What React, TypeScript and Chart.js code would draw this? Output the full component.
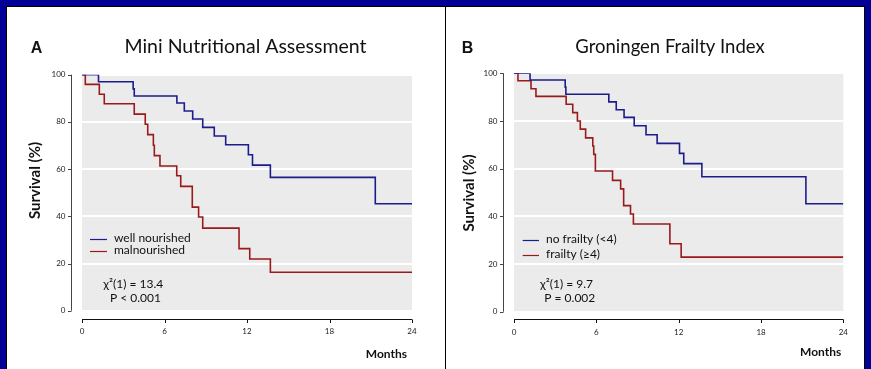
import React, { useEffect, useRef } from 'react';
import { Chart, registerables } from 'chart.js';

Chart.register(...registerables);

// ---------- data ----------
const xTickValues = [0, 6, 12, 18, 24];
const yTickValues = [0, 20, 40, 60, 80, 100];

const seriesNamesA = ['well nourished', 'malnourished'];
const seriesNamesB = ['no frailty (<4)', 'frailty (≥4)'];

const monthsWellNourished = [0, 1.2, 3.72, 3.8, 6.9, 7.44, 8.05, 8.78, 9.62, 10.45, 12.1, 12.4, 13.7, 21.33, 24];
const survivalWellNourished = [100, 97, 94, 91, 88, 84.6, 81.2, 77.7, 74, 70.3, 66.1, 61.7, 56.5, 45.3, 45.3];

const monthsMalnourished = [0, 0.24, 1.26, 1.62, 3.8, 4.6, 4.78, 5.19, 5.26, 5.67, 6.89, 7.18, 8.02, 8.48, 8.78, 11.42, 12.2, 13.7, 24];
const survivalMalnourished = [100, 95.9, 91.7, 87.7, 83.3, 79.0, 74.6, 70.1, 65.7, 61.3, 57.2, 52.7, 43.9, 39.7, 35.0, 26.3, 21.9, 16.3, 16.3];

const monthsNoFrailty = [0, 1.17, 3.73, 3.78, 6.91, 7.45, 8.02, 8.76, 9.62, 10.43, 12.06, 12.37, 13.69, 21.27, 24];
const survivalNoFrailty = [100, 97.2, 94.2, 91.2, 88.0, 84.7, 81.5, 78.0, 74.2, 70.6, 66.4, 62.1, 56.6, 45.3, 45.3];

const monthsFrailty = [0, 0.29, 1.24, 1.6, 3.8, 4.28, 4.62, 4.83, 5.22, 5.74, 5.81, 5.93, 7.18, 7.77, 7.99, 8.49, 8.7, 11.36, 12.18, 24];
const survivalFrailty = [100, 96.9, 93.5, 90.3, 87.0, 83.5, 80.0, 76.6, 72.9, 69.5, 66.0, 59.0, 55.1, 51.5, 44.5, 41.0, 36.8, 28.5, 22.9, 22.9];

const statsA = ['χ²(1) = 13.4', 'P < 0.001'];
const statsB = ['χ²(1) = 9.7', 'P = 0.002'];

const titleA = 'Mini Nutritional Assessment';
const titleB = 'Groningen Frailty Index';
const yAxisTitle = 'Survival (%)';
const xAxisTitle = 'Months';

// ---------- styling ----------
const BLUE = '#1c1c8c';
const RED = '#9a1a1a';
const PANEL_BG = '#ebebeb';
const FRAME_BLUE = '#000096';
const FAMILY = 'Lato, "Open Sans", "DejaVu Sans", sans-serif';

const toPoints = (xs: number[], ys: number[]) => xs.map((x, i) => ({ x, y: ys[i] }));

const decorPlugin = {
  id: 'kmDecor',
  beforeDraw(chart: any, _args: any, o: any) {
    const { ctx, chartArea: a } = chart;
    ctx.save();
    ctx.fillStyle = PANEL_BG;
    ctx.fillRect(a.left, a.top, a.right - a.left, a.bottom - a.top);
    ctx.restore();
  },
  afterDraw(chart: any, _args: any, o: any) {
    const { ctx, chartArea: a, scales } = chart;
    const xs = scales.x;
    const ys = scales.y;
    ctx.save();
    // y axis (offset)
    const yx = Math.floor(a.left - o.yAxisOffset) + 0.5;
    ctx.strokeStyle = '#444';
    ctx.lineWidth = 1;
    ctx.beginPath();
    ctx.moveTo(yx, ys.getPixelForValue(yTickValues[yTickValues.length - 1]));
    ctx.lineTo(yx, ys.getPixelForValue(yTickValues[0]));
    yTickValues.forEach((v) => {
      const py = Math.round(ys.getPixelForValue(v)) + 0.5;
      ctx.moveTo(yx - 3.5, py);
      ctx.lineTo(yx, py);
    });
    ctx.stroke();
    // x axis (offset)
    const xy = Math.floor(a.bottom + o.xAxisOffset) + 0.5;
    ctx.strokeStyle = '#111';
    ctx.beginPath();
    ctx.moveTo(xs.getPixelForValue(xTickValues[0]), xy);
    ctx.lineTo(xs.getPixelForValue(xTickValues[xTickValues.length - 1]), xy);
    xTickValues.forEach((v) => {
      const px = Math.round(xs.getPixelForValue(v)) + 0.5;
      ctx.moveTo(px, xy);
      ctx.lineTo(px, xy + 3.5);
    });
    ctx.stroke();

    ctx.fillStyle = '#111';
    // panel letter
    ctx.font = 'bold 16px "Liberation Sans", Arial, sans-serif';
    ctx.textAlign = 'center';
    ctx.textBaseline = 'alphabetic';
    ctx.fillText(o.letter, o.letterX, o.letterY);
    // title
    ctx.font = `${o.titleSize}px ${FAMILY}`;
    ctx.fillText(o.title, o.titleX, o.titleY);
    // y axis title
    ctx.save();
    ctx.translate(o.yTitleX, o.yTitleY);
    ctx.rotate(-Math.PI / 2);
    ctx.font = `bold 15px ${FAMILY}`;
    ctx.textBaseline = 'middle';
    ctx.fillText(yAxisTitle, 0, 0);
    ctx.restore();
    // x axis title
    ctx.font = `bold 12px ${FAMILY}`;
    ctx.textAlign = 'right';
    ctx.textBaseline = 'middle';
    ctx.fillText(xAxisTitle, o.xTitleX, o.xTitleY);

    // legend
    ctx.font = `12px ${FAMILY}`;
    ctx.textAlign = 'left';
    chart.data.datasets.forEach((ds: any, i: number) => {
      const ly = Math.round(a.top + o.legendY[i]) + 0.5;
      ctx.strokeStyle = ds.borderColor;
      ctx.lineWidth = 1.2;
      ctx.beginPath();
      ctx.moveTo(a.left + o.legendLineX0, ly);
      ctx.lineTo(a.left + o.legendLineX1, ly);
      ctx.stroke();
      ctx.fillStyle = '#111';
      ctx.fillText(ds.label, a.left + o.legendTextX, ly - 1);
    });
    // stats
    o.stats.forEach((s: string, i: number) => {
      ctx.fillText(s, a.left + o.statsX[i], a.top + o.statsY[i]);
    });
    ctx.restore();
  },
};

function buildConfig(s: any) {
  return {
    type: 'line',
    data: {
      datasets: [
        {
          label: s.names[0],
          data: toPoints(s.x1, s.y1),
          borderColor: BLUE,
          borderWidth: 1.6,
          stepped: 'before',
          pointRadius: 0,
          fill: false,
        },
        {
          label: s.names[1],
          data: toPoints(s.x2, s.y2),
          borderColor: RED,
          borderWidth: 1.6,
          stepped: 'before',
          pointRadius: 0,
          fill: false,
        },
      ],
    },
    options: {
      animation: false,
      responsive: false,
      devicePixelRatio: 1,
      layout: { padding: { top: s.padTop, right: s.padRight, left: 0, bottom: 0 } },
      plugins: {
        legend: { display: false },
        tooltip: { enabled: false },
        title: { display: false },
        kmDecor: s.decor,
      },
      scales: {
        x: {
          type: 'linear',
          min: 0,
          max: 24,
          afterBuildTicks: (sc: any) => {
            sc.ticks = xTickValues.map((v) => ({ value: v }));
          },
          afterFit: (sc: any) => {
            sc.height = s.xH;
          },
          grid: { display: false, drawTicks: false },
          border: { display: false },
          ticks: {
            padding: 16,
            autoSkip: false,
            maxRotation: 0,
            color: '#222',
            font: { family: FAMILY, size: 8 },
          },
        },
        y: {
          type: 'linear',
          min: 0,
          max: 100,
          afterBuildTicks: (sc: any) => {
            sc.ticks = yTickValues.map((v) => ({ value: v }));
          },
          afterFit: (sc: any) => {
            sc.width = s.yW;
          },
          grid: { color: '#ffffff', lineWidth: 2, drawTicks: false },
          border: { display: false },
          ticks: {
            padding: 16.5,
            color: '#222',
            font: { family: FAMILY, size: 8 },
          },
        },
      },
    },
    plugins: [decorPlugin],
  };
}

const panelA = {
  left: 7,
  top: 7,
  w: 437,
  h: 362,
  padTop: 67.7,
  padRight: 32,
  yW: 75,
  xH: 58.3,
  names: seriesNamesA,
  x1: monthsWellNourished,
  y1: survivalWellNourished,
  x2: monthsMalnourished,
  y2: survivalMalnourished,
  decor: {
    letter: 'A',
    letterX: 29.5,
    letterY: 46,
    title: titleA,
    titleSize: 19.5,
    titleX: 238.5,
    titleY: 46,
    yTitleX: 28,
    yTitleY: 173.5,
    xTitleX: 400,
    xTitleY: 347,
    yAxisOffset: 10.5,
    xAxisOffset: 8.3,
    legendY: [164.3, 176.6],
    legendLineX0: 8,
    legendLineX1: 25,
    legendTextX: 32,
    stats: statsA,
    statsX: [21.3, 28],
    statsY: [209, 223],
  },
};

const panelB = {
  left: 446,
  top: 7,
  w: 418,
  h: 362,
  padTop: 66.3,
  padRight: 15.7,
  yW: 68,
  xH: 57.3,
  names: seriesNamesB,
  x1: monthsNoFrailty,
  y1: survivalNoFrailty,
  x2: monthsFrailty,
  y2: survivalFrailty,
  decor: {
    letter: 'B',
    letterX: 21.5,
    letterY: 46,
    title: titleB,
    titleSize: 18.5,
    titleX: 224,
    titleY: 46,
    yTitleX: 23.3,
    yTitleY: 186,
    xTitleX: 395.3,
    xTitleY: 345,
    yAxisOffset: 10.7,
    xAxisOffset: 8,
    legendY: [166.7, 181.7],
    legendLineX0: 8.7,
    legendLineX1: 25,
    legendTextX: 32,
    stats: statsB,
    statsX: [26, 30.3],
    statsY: [210.4, 224.4],
  },
};

function KMPanel({ spec }: { spec: any }) {
  const ref = useRef<HTMLCanvasElement | null>(null);
  useEffect(() => {
    if (!ref.current) return;
    const chart = new Chart(ref.current, buildConfig(spec) as any);
    return () => chart.destroy();
  }, [spec]);
  return (
    <canvas
      ref={ref}
      width={spec.w}
      height={spec.h}
      style={{ position: 'absolute', left: spec.left, top: spec.top, width: spec.w, height: spec.h }}
    />
  );
}

export default function App() {
  useEffect(() => {
    document.body.style.margin = '0';
  }, []);
  return (
    <div
      style={{
        position: 'fixed',
        left: 0,
        top: 0,
        width: 871,
        height: 369,
        background: FRAME_BLUE,
        overflow: 'hidden',
      }}
    >
      <div
        style={{
          position: 'absolute',
          left: 6,
          top: 6,
          width: 857,
          height: 370,
          background: '#ffffff',
          border: '1px solid #000',
        }}
      />
      <div style={{ position: 'absolute', left: 445, top: 6, width: 1, height: 363, background: '#000' }} />
      <KMPanel spec={panelA} />
      <KMPanel spec={panelB} />
    </div>
  );
}
